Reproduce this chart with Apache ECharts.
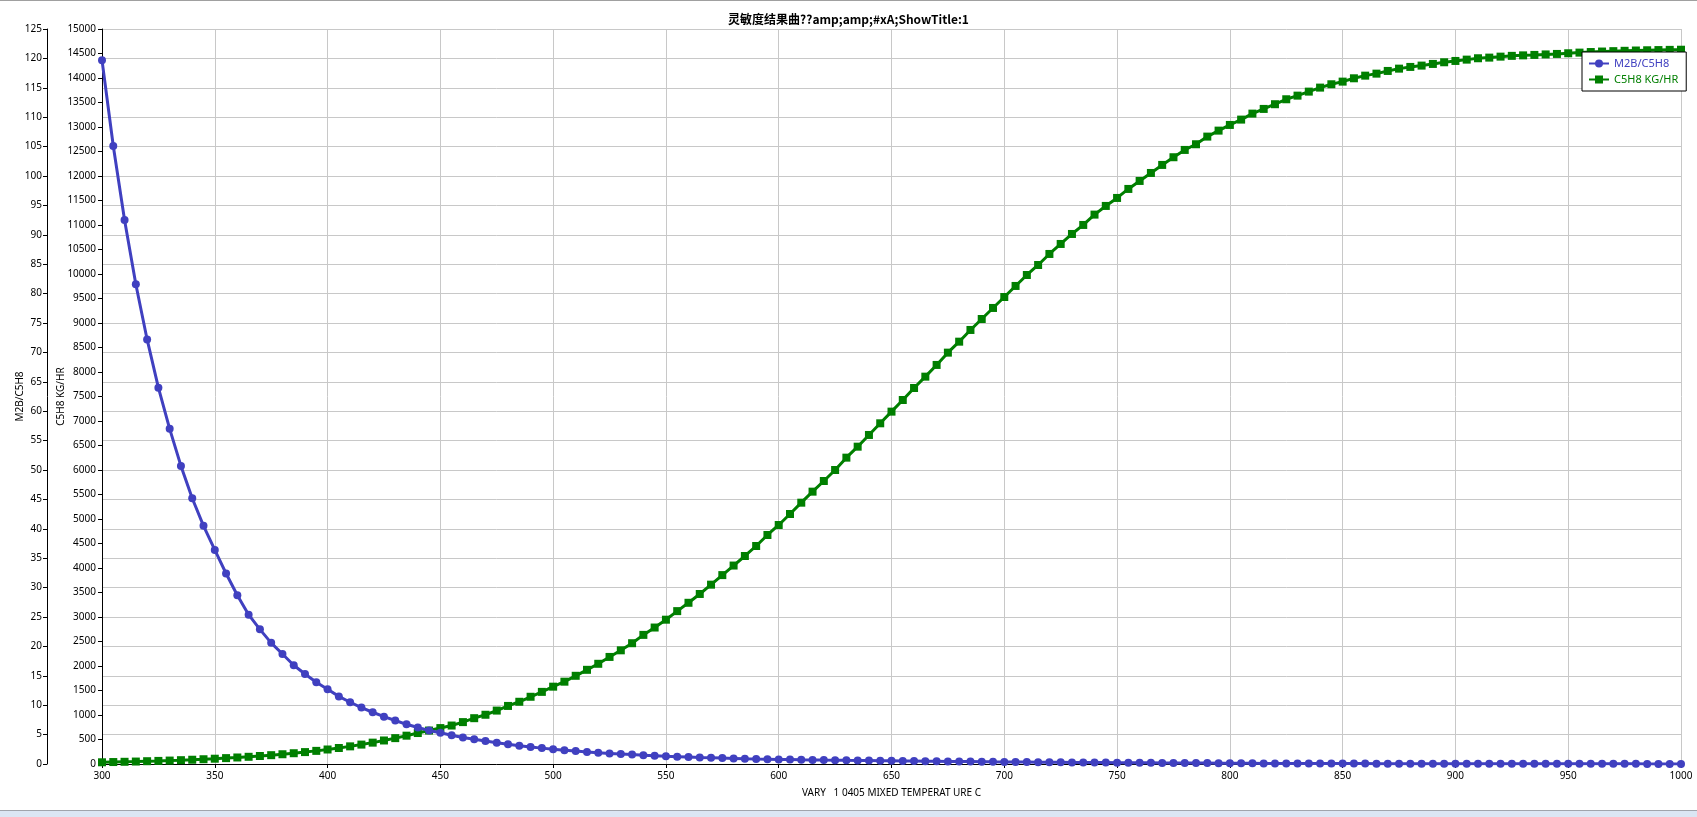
<!DOCTYPE html>
<html>
<head>
<meta charset="utf-8">
<script src="https://cdn.jsdelivr.net/npm/echarts@6/dist/echarts.min.js"></script>
<style>
html,body{margin:0;padding:0;background:#fff;}
#chart{width:1697px;height:817px;}
</style>
</head>
<body>
<div id="chart"></div>
<script>
const titleText = '灵敏度结果曲??amp;amp;#xA;ShowTitle:1';
const xAxisName = 'VARY   1 0405 MIXED TEMPERAT URE C';
const seriesNames = ['M2B/C5H8', 'C5H8 KG/HR'];

const temperature = [
  300,305,310,315,320,325,330,335,340,345,
  350,355,360,365,370,375,380,385,390,395,
  400,405,410,415,420,425,430,435,440,445,
  450,455,460,465,470,475,480,485,490,495,
  500,505,510,515,520,525,530,535,540,545,
  550,555,560,565,570,575,580,585,590,595,
  600,605,610,615,620,625,630,635,640,645,
  650,655,660,665,670,675,680,685,690,695,
  700,705,710,715,720,725,730,735,740,745,
  750,755,760,765,770,775,780,785,790,795,
  800,805,810,815,820,825,830,835,840,845,
  850,855,860,865,870,875,880,885,890,895,
  900,905,910,915,920,925,930,935,940,945,
  950,955,960,965,970,975,980,985,990,995,
  1000
];

const m2bRatio = [
  119.7,105.1,92.5,81.6,72.2,64.0,57.0,50.7,45.2,40.5,
  36.4,32.4,28.7,25.4,22.9,20.6,18.7,16.8,15.3,13.9,
  12.7,11.5,10.5,9.6,8.8,8.05,7.4,6.75,6.2,5.7,
  5.3,4.9,4.5,4.2,3.9,3.6,3.35,3.1,2.9,2.7,
  2.5,2.35,2.2,2.05,1.9,1.8,1.7,1.6,1.5,1.4,
  1.3,1.25,1.2,1.1,1.05,1.0,0.95,0.88,0.84,0.81,
  0.78,0.75,0.72,0.7,0.67,0.65,0.62,0.6,0.58,0.56,
  0.54,0.52,0.5,0.48,0.46,0.44,0.42,0.41,0.39,0.37,
  0.36,0.34,0.33,0.31,0.3,0.29,0.27,0.26,0.25,0.24,
  0.23,0.22,0.21,0.2,0.19,0.18,0.17,0.16,0.15,0.14,
  0.13,0.12,0.11,0.1,0.1,0.09,0.09,0.08,0.08,0.08,
  0.07,0.07,0.07,0.06,0.06,0.06,0.06,0.05,0.05,0.05,
  0.05,0.05,0.04,0.04,0.04,0.04,0.04,0.04,0.03,0.03,
  0.03,0.03,0.03,0.03,0.03,0.03,0.03,0.02,0.02,0.02,
  0.02
];

const c5h8Rate = [
  35,40,45,50,57,63,70,78,87,97,
  108,120,133,147,163,180,199,220,243,268,
  296,326,360,396,436,480,528,578,632,683,
  733,785,855,935,1005,1090,1185,1270,1372,1472,
  1578,1680,1800,1922,2045,2185,2320,2465,2635,2785,
  2945,3120,3290,3470,3660,3855,4050,4245,4449,4674,
  4878,5102,5333,5558,5776,6000,6252,6476,6715,6953,
  7191,7429,7674,7905,8144,8395,8619,8858,9082,9307,
  9531,9756,9980,10184,10409,10613,10817,11001,11212,11389,
  11552,11736,11899,12062,12226,12383,12532,12648,12804,12926,
  13042,13151,13273,13369,13465,13566,13640,13722,13804,13872,
  13926,13994,14048,14089,14144,14191,14226,14253,14287,14321,
  14348,14375,14403,14416,14436,14452,14462,14471,14481,14491,
  14505,14518,14530,14540,14548,14555,14561,14566,14570,14574,
  14577
];

const BLUE = '#4040c0';
const GREEN = '#007f00';
const FONT = 'Noto Sans';

const chart = echarts.init(document.getElementById('chart'), null, {renderer: 'canvas'});

const plain = v => String(v);
const labelStyle = {color: '#000', fontFamily: FONT, fontSize: 10, formatter: plain};

chart.setOption({
  animation: false,
  backgroundColor: '#fff',
  title: {
    text: titleText,
    left: 'center',
    top: 8,
    textStyle: {fontFamily: 'Noto Sans CJK SC', fontSize: 12, fontWeight: 'bold', color: '#000'}
  },
  legend: {
    orient: 'vertical',
    left: 1582,
    top: 52,
    padding: [6, 8, 6, 6],
    itemGap: 5,
    itemWidth: 20,
    itemHeight: 10,
    backgroundColor: '#fff',
    borderColor: '#000',
    borderWidth: 1,
    borderRadius: 0,
    textStyle: {fontFamily: FONT, fontSize: 11},
    data: [
      {name: seriesNames[0], textStyle: {color: BLUE}},
      {name: seriesNames[1], textStyle: {color: GREEN}}
    ]
  },
  grid: {left: 102, right: 16, top: 29, bottom: 53, containLabel: false, outerBoundsMode: 'none'},
  xAxis: {
    type: 'value',
    min: 300, max: 1000, interval: 50,
    name: xAxisName,
    nameLocation: 'middle',
    nameGap: 24,
    nameMoveOverlap: false,
    nameTextStyle: {color: '#000', fontFamily: FONT, fontSize: 10},
    axisLine: {show: true, onZero: false, lineStyle: {color: '#000', width: 1}},
    axisTick: {show: true, length: 4, lineStyle: {color: '#000'}},
    axisLabel: Object.assign({margin: 7, showMinLabel: true, showMaxLabel: true}, labelStyle),
    splitLine: {show: true, lineStyle: {color: '#c8c8c8', width: 1}}
  },
  yAxis: [
    {
      type: 'value',
      position: 'left',
      offset: 55,
      min: 0, max: 125, interval: 5,
      name: seriesNames[0],
      nameLocation: 'middle',
      nameGap: 22,
      nameMoveOverlap: false,
      nameTextStyle: {color: '#000', fontFamily: FONT, fontSize: 10},
      axisLine: {show: true, onZero: false, lineStyle: {color: '#000', width: 1}},
      axisTick: {show: true, length: 4, lineStyle: {color: '#000'}},
      axisLabel: Object.assign({margin: 5, showMinLabel: true, showMaxLabel: true}, labelStyle),
      splitLine: {show: true, lineStyle: {color: '#c8c8c8', width: 1}}
    },
    {
      type: 'value',
      position: 'left',
      offset: 0,
      min: 0, max: 15000, interval: 500,
      name: seriesNames[1],
      nameLocation: 'middle',
      nameGap: 36,
      nameMoveOverlap: false,
      nameTextStyle: {color: '#000', fontFamily: FONT, fontSize: 10},
      axisLine: {show: true, onZero: false, lineStyle: {color: '#000', width: 1}},
      axisTick: {show: true, length: 4, lineStyle: {color: '#000'}},
      axisLabel: Object.assign({margin: 6, showMinLabel: true, showMaxLabel: true}, labelStyle),
      splitLine: {show: false}
    }
  ],
  series: [
    {
      name: seriesNames[0],
      type: 'line',
      yAxisIndex: 0,
      data: temperature.map((t, i) => [t, m2bRatio[i]]),
      symbol: 'circle',
      symbolSize: 8,
      showAllSymbol: true,
      lineStyle: {color: BLUE, width: 3},
      itemStyle: {color: BLUE},
      z: 3
    },
    {
      name: seriesNames[1],
      type: 'line',
      yAxisIndex: 1,
      data: temperature.map((t, i) => [t, c5h8Rate[i]]),
      symbol: 'rect',
      symbolSize: 8,
      showAllSymbol: true,
      lineStyle: {color: GREEN, width: 3},
      itemStyle: {color: GREEN},
      z: 2
    }
  ],
  graphic: [
    {type: 'rect', shape: {x: 0, y: 0, width: 1697, height: 1}, style: {fill: '#a0a0a0'}, silent: true},
    {type: 'rect', shape: {x: 0, y: 810, width: 1697, height: 1}, style: {fill: '#a0a4ac'}, silent: true},
    {type: 'rect', shape: {x: 0, y: 811, width: 1697, height: 6}, style: {fill: '#dbe6f4'}, silent: true}
  ]
});
</script>
</body>
</html>
